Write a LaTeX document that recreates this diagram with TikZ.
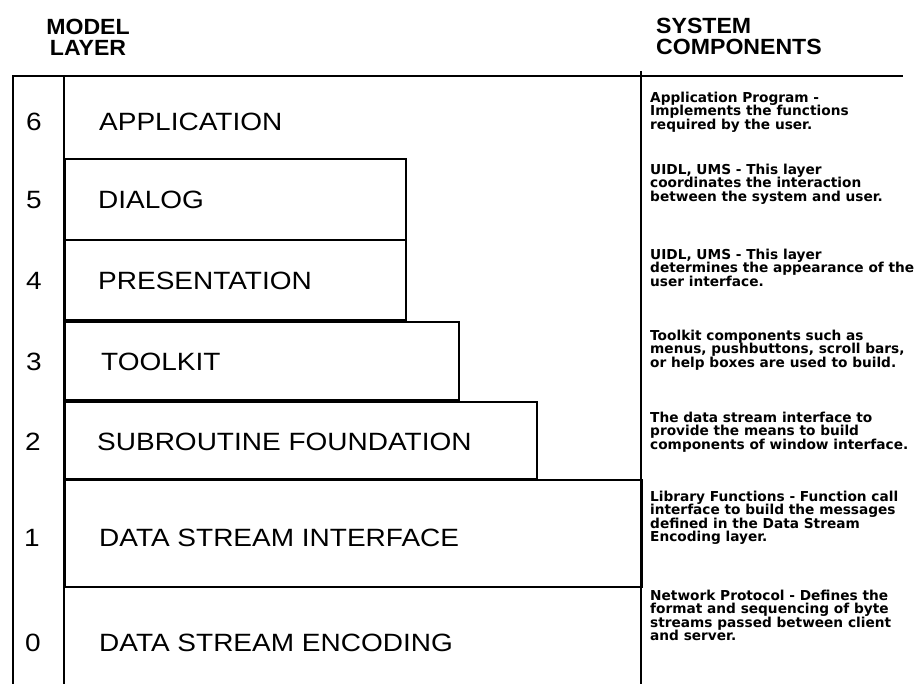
\documentclass[tikz,border=0pt]{standalone}
\usepackage{fontspec}
\newfontfamily\layerfont{Liberation Sans}[FakeStretch=1.12]
\newfontfamily\headfont{Liberation Sans}[FakeStretch=1.05]
\newfontfamily\notefont{DejaVu Sans}
\newcommand\notesize{\notefont\bfseries\fontsize{13.7}{13.3}\selectfont\lineskiplimit-20pt\relax}
\begin{document}
\begin{tikzpicture}[x=1pt,y=-1pt,
  frameline/.style={line width=2.6pt},
  layerbox/.style={draw, line width=1.8pt, inner sep=0pt, anchor=north west},
  layertext/.style={font=\layerfont\fontsize{25}{30}\selectfont, anchor=west, inner sep=0pt},
  layernum/.style={font=\layerfont\fontsize{25}{30}\selectfont, inner sep=0pt},
  header/.style={font=\headfont\bfseries\fontsize{22}{21}\selectfont, inner sep=0pt},
  note/.style={font=\notesize, align=left, anchor=north west, inner sep=0pt}]
\useasboundingbox (0,0) rectangle (921,684);

% column headings
\node[header, align=center] (modelhead) at (88,37) {MODEL\\LAYER};
\node[header, align=left, anchor=west] (syshead) at (656,36) {SYSTEM\\COMPONENTS};

% outer frame: top rule, left edge, number column and description column
\draw[frameline] (13,684) -- (13,76) -- (903,76);
\draw[frameline] (64,76) -- (64,684);
\draw[line width=2.8pt] (641,71) -- (641,684);

% stacked layer boxes
\node[layerbox, minimum width=341pt, minimum height=81pt] (dialogbox) at (64,158) {};
\node[layerbox, minimum width=341pt, minimum height=80pt] (presbox) at (64,239) {};
\node[layerbox, minimum width=394pt, minimum height=78pt] (toolbox) at (64,321) {};
\node[layerbox, minimum width=472pt, minimum height=77pt] (subbox) at (64,401) {};
\node[layerbox, minimum width=577pt, minimum height=107pt] (dsibox) at (64,479) {};

% layer numbers
\node[layernum] (n6) at (34,122) {6};
\node[layernum] (n5) at (34,200) {5};
\node[layernum] (n4) at (34,281) {4};
\node[layernum] (n3) at (34,362) {3};
\node[layernum] (n2) at (33,442) {2};
\node[layernum] (n1) at (32,538) {1};
\node[layernum] (n0) at (33,643) {0};

% layer names
\node[layertext] (l6) at (99,122) {APPLICATION};
\node[layertext] (l5) at (98,200) {DIALOG};
\node[layertext] (l4) at (98,281) {PRESENTATION};
\node[layertext] (l3) at (101,362) {TOOLKIT};
\node[layertext] (l2) at (97,442) {SUBROUTINE FOUNDATION};
\node[layertext] (l1) at (99,538) {DATA STREAM INTERFACE};
\node[layertext] (l0) at (99,643) {DATA STREAM ENCODING};

% system component descriptions
\node[note] (d6) at (650,92) {Application Program -\\Implements the functions\\required by the user.};
\node[note] (d5) at (650,164) {UIDL, UMS - This layer\\coordinates the interaction\\between the system and user.};
\node[note] (d4) at (650,249) {UIDL, UMS - This layer\\determines the appearance of the\\user interface.};
\node[note] (d3) at (650,330) {Toolkit components such as\\menus, pushbuttons, scroll bars,\\or help boxes are used to build.};
\node[note] (d2) at (650,412) {The data stream interface to\\provide the means to build\\components of window interface.};
\node[note] (d1) at (650,491) {Library Functions - Function call\\interface to build the messages\\defined in the Data Stream\\Encoding layer.};
\node[note] (d0) at (650,590) {Network Protocol - Defines the\\format and sequencing of byte\\streams passed between client\\and server.};
\end{tikzpicture}
\end{document}
